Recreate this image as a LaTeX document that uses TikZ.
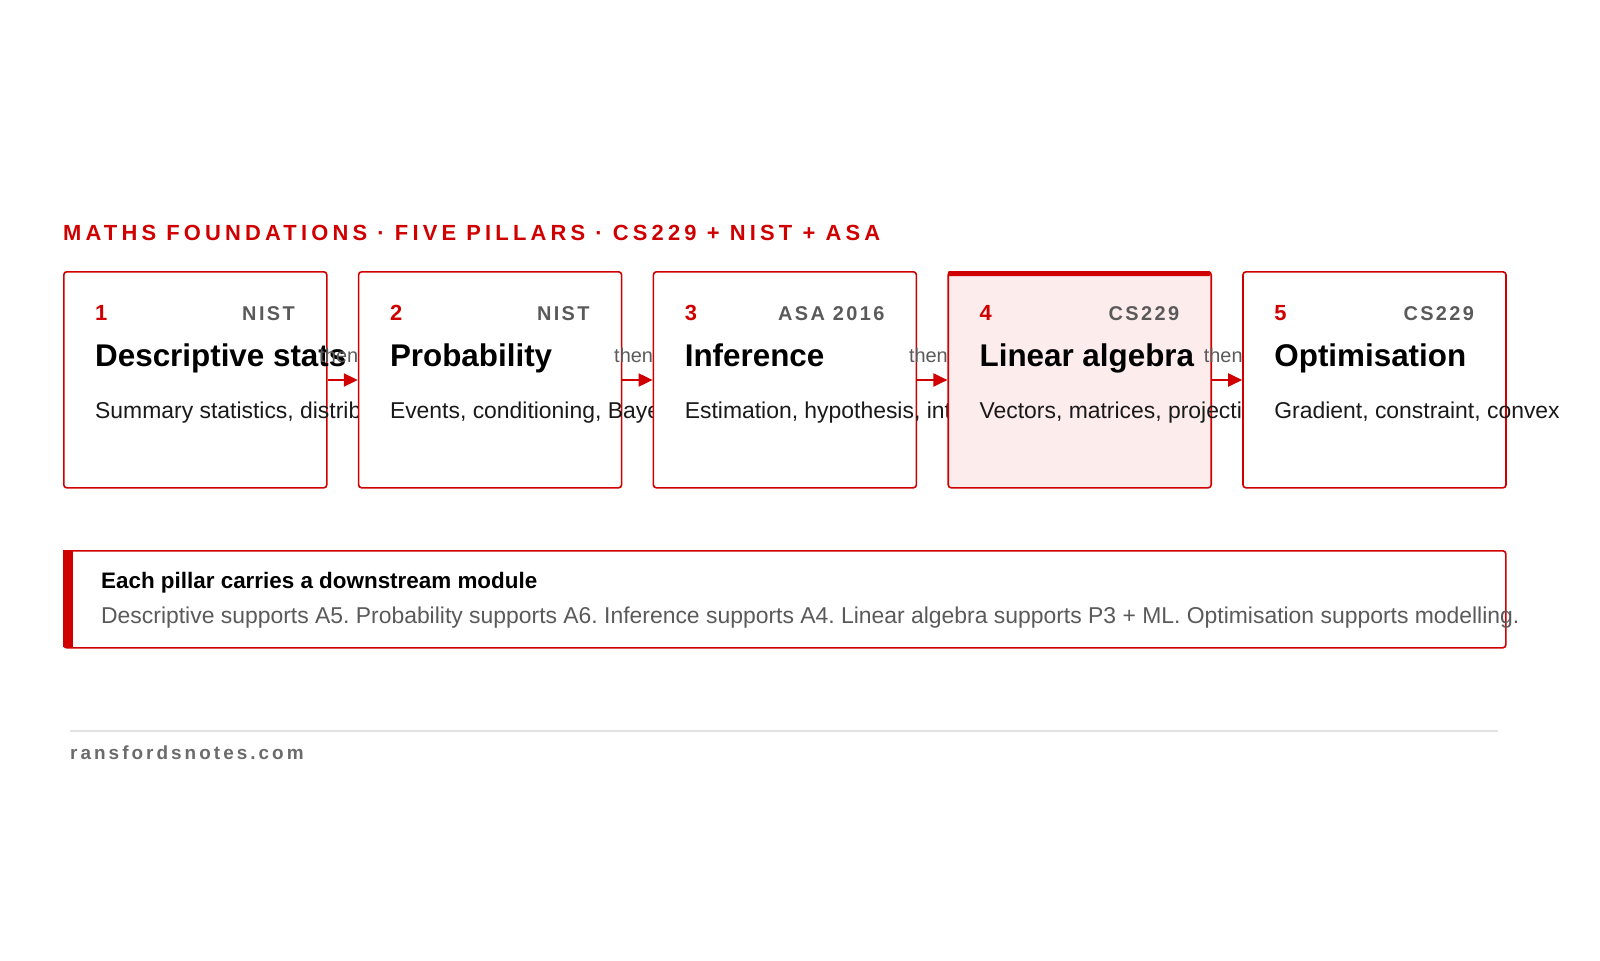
\documentclass[tikz,border=0pt]{standalone}
\usepackage{fontspec}
\setmainfont{Liberation Sans}
\newfontfamily\spacedfont[LetterSpace=12]{Liberation Sans}
\newfontfamily\hdrfont[LetterSpace=19]{Liberation Sans}
\newfontfamily\footfont[LetterSpace=16]{Liberation Sans}
\usetikzlibrary{arrows.meta}
\definecolor{accent}{HTML}{D00000}
\definecolor{tagg}{HTML}{5A5A5A}
\definecolor{pinkbg}{HTML}{FDECEC}
\definecolor{rulegray}{HTML}{E2E2E2}
\tikzset{
  pillar/.style={draw=accent, line width=1.6bp, fill=white, rounded corners=3bp, minimum width=263bp, minimum height=216bp, inner sep=0pt},
  num/.style={anchor=base west, inner sep=0pt, text=accent, font=\bfseries\fontsize{22}{26}\selectfont},
  tagtxt/.style={anchor=base east, inner sep=0pt, text=tagg, font=\spacedfont\bfseries\fontsize{20}{24}\selectfont},
  ttl/.style={anchor=base west, inner sep=0pt, text=black, font=\bfseries\fontsize{31.5}{36}\selectfont},
  desc/.style={anchor=base west, inner sep=0pt, text=black!90, font=\fontsize{23}{27}\selectfont},
  thenlbl/.style={inner sep=0pt, text=tagg, font=\fontsize{20}{24}\selectfont},
  flow/.style={draw=accent, line width=2bp, -{Triangle[length=14bp,width=13bp]}},
}
\begin{document}
\frenchspacing
\begin{tikzpicture}[x=1bp,y=-1bp]
\useasboundingbox (0,0) rectangle (1600,960);
\fill[white] (0,0) rectangle (1600,960);
\node[anchor=base west, inner sep=0pt, text=accent, font=\hdrfont\bfseries\fontsize{22}{26}\selectfont] (hdr) at (63,240) {MATHS FOUNDATIONS · FIVE PILLARS · CS229 + NIST + ASA};
\foreach \i/\tg/\t/\d/\fc in {1/NIST/Descriptive stats/{Summary statistics, distributions}/white,
  2/NIST/Probability/{Events, conditioning, Bayes}/white,
  3/ASA 2016/Inference/{Estimation, hypothesis, intervals}/white,
  4/CS229/Linear algebra/{Vectors, matrices, projections}/pinkbg,
  5/CS229/Optimisation/{Gradient, constraint, convex}/white}{
  \pgfmathsetmacro\bx{63+(\i-1)*294.8}
  \ifnum\i>1
    \pgfmathtruncatemacro\j{\i-1}
    \node[thenlbl] (th\j) at (\bx-19,355) {then};
    \coordinate (a\j) at (\bx-31,380);
    \coordinate (b\j) at (\bx,380);
  \fi
  \node[pillar, fill=\fc, anchor=north west] (p\i) at (\bx,271) {};
  \node[num] (n\i) at (\bx+32,320) {\i};
  \node[tagtxt] (g\i) at (\bx+232,320) {\tg};
  \node[ttl] (t\i) at (\bx+32,366) {\t};
  \node[desc] (d\i) at (\bx+32,418) {\d};
}
\foreach \j [evaluate=\j as \k using int(\j+1)] in {1,2,3,4}{
  \draw[flow] (p\j.east |- a\j) -- (p\k.west |- b\j);
}
\fill[accent, rounded corners=1bp] (948,271) rectangle (1210,276);
\node[draw=accent, line width=1.6bp, rounded corners=3bp, minimum width=1442bp, minimum height=97bp, anchor=north west, inner sep=0pt] (note) at (63,550) {};
\fill[accent] (63,550) rectangle (73,647);
\node[anchor=base west, inner sep=0pt, font=\bfseries\fontsize{22.5}{26}\selectfont] (nt) at (101,588) {Each pillar carries a downstream module};
\node[anchor=base west, inner sep=0pt, text=tagg, font=\fontsize{23}{27}\selectfont] (nd) at (101,623) {Descriptive supports A5. Probability supports A6. Inference supports A4. Linear algebra supports P3 + ML. Optimisation supports modelling.};
\coordinate (r1) at (70,731); \coordinate (r2) at (1498,731);
\draw[rulegray, line width=1.2bp] (r1) -- (r2);
\node[anchor=base west, inner sep=0pt, text=tagg!90, font=\footfont\bfseries\fontsize{19}{22}\selectfont] (foot) at (70,759) {ransfordsnotes.com};
\end{tikzpicture}
\end{document}
